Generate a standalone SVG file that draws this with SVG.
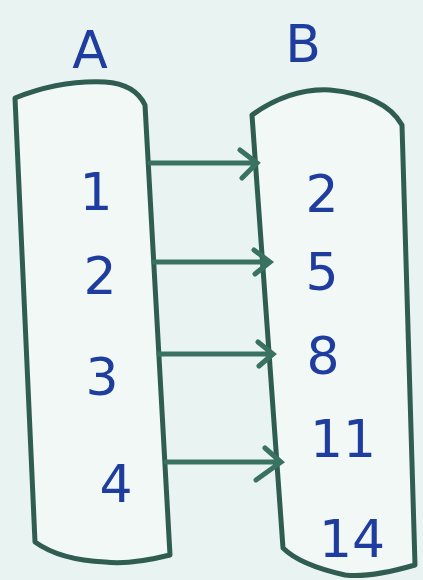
<svg xmlns="http://www.w3.org/2000/svg" width="423" height="580" viewBox="0 0 423 580">
<style>
.shape{fill:#f2f8f6;stroke:#2f5e50;stroke-width:5;stroke-linejoin:round;stroke-linecap:round}
.lbl{font-family:"DejaVu Sans","Liberation Sans",sans-serif;fill:#1f3d9e;font-size:52px;text-anchor:middle}
.conn{stroke:#3a7262;stroke-width:5;fill:none;stroke-linecap:round}
</style>
<rect width="423" height="580" fill="#e9f4f2"/>
<g id="nodeA">
<path class="shape" d="M15,98 Q60,80 105,82 Q135,84 145,105 L170,555 Q130,565 105,562 Q60,560 35,542 Z"/>
<text class="lbl" x="90" y="68" font-size="48">A</text>
<text class="lbl" x="96" y="210">1</text>
<text class="lbl" x="100" y="294">2</text>
<text class="lbl" x="102" y="395">3</text>
<text class="lbl" x="116" y="502">4</text>
</g>
<g id="nodeB">
<path class="shape" d="M252,115 Q290,88 330,90 Q385,95 402,125 L415,565 Q370,578 345,575 Q300,565 283,548 Z"/>
<text class="lbl" x="303" y="62" font-size="48">B</text>
<text class="lbl" x="322" y="212">2</text>
<text class="lbl" x="322" y="290">5</text>
<text class="lbl" x="323" y="374">8</text>
<text class="lbl" x="343" y="457" font-size="40">11</text>
<text class="lbl" x="352" y="557">14</text>
</g>
<g id="connectors">
<path class="conn" d="M150,163 L255,163 M240,150 L257,163 L242,178"/>
<path class="conn" d="M154,262 L268,262 M254,250 L270,262 L255,274"/>
<path class="conn" d="M159,354 L271,354 M258,342 L273,354 L259,366"/>
<path class="conn" d="M166,462 L280,462 M265,448 L281,462 L256,480"/>
</g>
</svg>
